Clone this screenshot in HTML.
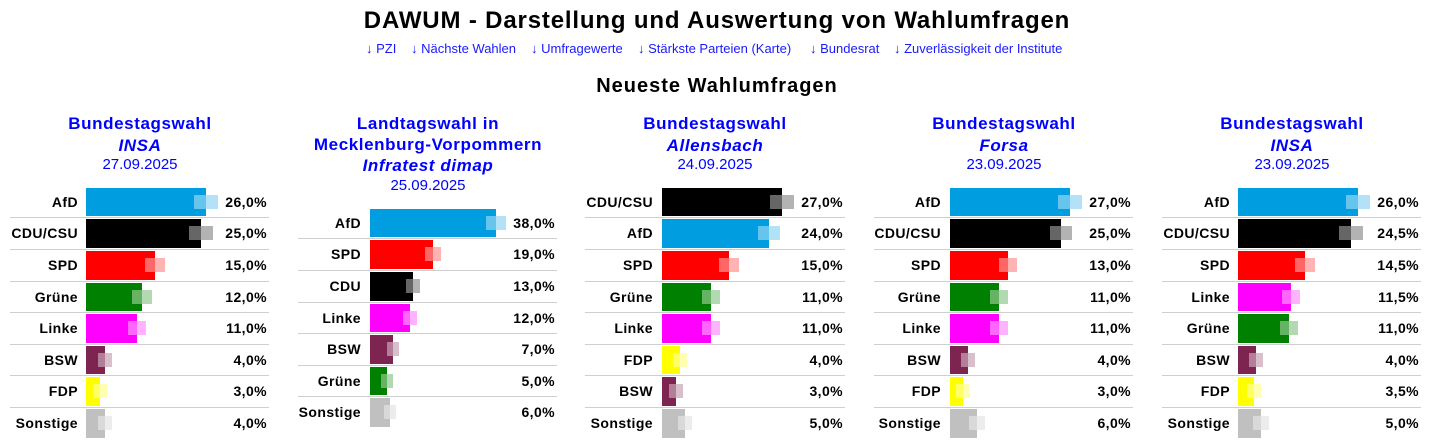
<!DOCTYPE html>
<html><head><meta charset="utf-8"><style>
body{margin:0;width:1434px;height:446px;background:#fff;position:relative;overflow:hidden;font-family:"Liberation Sans",Arial,sans-serif;color:#000}
.h1{position:absolute;left:0;top:9px;width:1434px;text-align:center;font-weight:bold;font-size:24px;letter-spacing:.84px;line-height:24px;white-space:nowrap}
.nav{position:absolute;top:41px;font-size:13px;line-height:15px;color:#1a1aff;white-space:nowrap}
.h2{position:absolute;left:0;top:74px;width:1434px;text-align:center;font-weight:bold;font-size:20px;letter-spacing:1px;line-height:24px;white-space:nowrap}
.p{position:absolute;top:0;width:260px;height:446px}
.ti{position:absolute;left:-30px;width:320px;text-align:center;color:#00f;font-weight:bold;font-size:17px;letter-spacing:.6px;line-height:20px;white-space:nowrap}
.i{font-style:italic}
.d{font-weight:normal;font-size:15px;letter-spacing:0;line-height:18px}
.ln{position:absolute;left:0;width:259px;height:1px;background:#cfcfcf}
.r{position:absolute;left:0;width:260px}
.l,.v{position:absolute;left:0;top:0;text-align:right;font-weight:bold;font-size:14px;letter-spacing:.4px;white-space:nowrap}
.b{position:absolute;top:0;height:100%}
.gi,.go{position:absolute;top:7px;height:14px}
.afd .b{background:#009ee0}.afd .gi{background:#66c5ec}.afd .go{background:#b3e2f6}
.cdu .b{background:#000}.cdu .gi{background:#666}.cdu .go{background:#b3b3b3}
.spd .b{background:#f00}.spd .gi{background:#f66}.spd .go{background:#ffb3b3}
.gru .b{background:#008000}.gru .gi{background:#66b366}.gru .go{background:#b3d9b3}
.lin .b{background:#f0f}.lin .gi{background:#f6f}.lin .go{background:#ffb3ff}
.bsw .b{background:#7d2450}.bsw .gi{background:#b37f98}.bsw .go{background:#d8bfcb}
.fdp .b{background:#ff0}.fdp .gi{background:#ff6}.fdp .go{background:#ffffb3}
.son .b{background:#c0c0c0}.son .gi{background:#d9d9d9}.son .go{background:#ececec}
</style></head><body>
<div class="h1">DAWUM - Darstellung und Auswertung von Wahlumfragen</div>
<div class="nav" style="left:366px">↓ PZI</div>
<div class="nav" style="left:411px">↓ Nächste Wahlen</div>
<div class="nav" style="left:531px">↓ Umfragewerte</div>
<div class="nav" style="left:638px">↓ Stärkste Parteien (Karte)</div>
<div class="nav" style="left:810px">↓ Bundesrat</div>
<div class="nav" style="left:894px">↓ Zuverlässigkeit der Institute</div>
<div class="h2">Neueste Wahlumfragen</div>

<!-- Panel 1 -->
<div class="p" style="left:10px">
<div class="ti" style="top:114px">Bundestagswahl</div>
<div class="ti i" style="top:136px">INSA</div>
<div class="ti d" style="top:156px">27.09.2025</div>
<div class="ln" style="top:217px"></div><div class="ln" style="top:249px"></div><div class="ln" style="top:281px"></div><div class="ln" style="top:312px"></div><div class="ln" style="top:344px"></div><div class="ln" style="top:375px"></div><div class="ln" style="top:407px"></div>
<div class="r afd" style="top:188px;height:28px;line-height:28px"><div class="l" style="width:68px">AfD</div><div class="b" style="left:76px;width:120px"></div><div class="gi" style="left:184px;width:12px"></div><div class="go" style="left:196px;width:12px"></div><div class="v" style="width:257px">26,0%</div></div>
<div class="r cdu" style="top:219px;height:29px;line-height:29px"><div class="l" style="width:68px">CDU/CSU</div><div class="b" style="left:76px;width:115px"></div><div class="gi" style="left:179px;width:12px"></div><div class="go" style="left:191px;width:12px"></div><div class="v" style="width:257px">25,0%</div></div>
<div class="r spd" style="top:251px;height:29px;line-height:29px"><div class="l" style="width:68px">SPD</div><div class="b" style="left:76px;width:69px"></div><div class="gi" style="left:135px;width:10px"></div><div class="go" style="left:145px;width:10px"></div><div class="v" style="width:257px">15,0%</div></div>
<div class="r gru" style="top:283px;height:28px;line-height:28px"><div class="l" style="width:68px">Grüne</div><div class="b" style="left:76px;width:56px"></div><div class="gi" style="left:122px;width:10px"></div><div class="go" style="left:132px;width:10px"></div><div class="v" style="width:257px">12,0%</div></div>
<div class="r lin" style="top:314px;height:29px;line-height:29px"><div class="l" style="width:68px">Linke</div><div class="b" style="left:76px;width:51px"></div><div class="gi" style="left:118px;width:9px"></div><div class="go" style="left:127px;width:9px"></div><div class="v" style="width:257px">11,0%</div></div>
<div class="r bsw" style="top:346px;height:28px;line-height:28px"><div class="l" style="width:68px">BSW</div><div class="b" style="left:76px;width:19px"></div><div class="gi" style="left:88px;width:7px"></div><div class="go" style="left:95px;width:7px"></div><div class="v" style="width:257px">4,0%</div></div>
<div class="r fdp" style="top:377px;height:29px;line-height:29px"><div class="l" style="width:68px">FDP</div><div class="b" style="left:76px;width:14px"></div><div class="gi" style="left:83px;width:7px"></div><div class="go" style="left:90px;width:7px"></div><div class="v" style="width:257px">3,0%</div></div>
<div class="r son" style="top:409px;height:29px;line-height:29px"><div class="l" style="width:68px">Sonstige</div><div class="b" style="left:76px;width:19px"></div><div class="gi" style="left:88px;width:7px"></div><div class="go" style="left:95px;width:7px"></div><div class="v" style="width:257px">4,0%</div></div>
</div>

<!-- Panel 2 -->
<div class="p" style="left:298px">
<div class="ti" style="top:114px">Landtagswahl in</div>
<div class="ti" style="top:135px">Mecklenburg-Vorpommern</div>
<div class="ti i" style="top:156px">Infratest dimap</div>
<div class="ti d" style="top:177px">25.09.2025</div>
<div class="ln" style="top:238px"></div><div class="ln" style="top:270px"></div><div class="ln" style="top:302px"></div><div class="ln" style="top:333px"></div><div class="ln" style="top:365px"></div><div class="ln" style="top:396px"></div>
<div class="r afd" style="top:209px;height:28px;line-height:28px"><div class="l" style="width:63px">AfD</div><div class="b" style="left:72px;width:126px"></div><div class="gi" style="left:188px;width:10px"></div><div class="go" style="left:198px;width:10px"></div><div class="v" style="width:257px">38,0%</div></div>
<div class="r spd" style="top:240px;height:29px;line-height:29px"><div class="l" style="width:63px">SPD</div><div class="b" style="left:72px;width:63px"></div><div class="gi" style="left:127px;width:8px"></div><div class="go" style="left:135px;width:8px"></div><div class="v" style="width:257px">19,0%</div></div>
<div class="r cdu" style="top:272px;height:29px;line-height:29px"><div class="l" style="width:63px">CDU</div><div class="b" style="left:72px;width:43px"></div><div class="gi" style="left:108px;width:7px"></div><div class="go" style="left:115px;width:7px"></div><div class="v" style="width:257px">13,0%</div></div>
<div class="r lin" style="top:304px;height:28px;line-height:28px"><div class="l" style="width:63px">Linke</div><div class="b" style="left:72px;width:40px"></div><div class="gi" style="left:105px;width:7px"></div><div class="go" style="left:112px;width:7px"></div><div class="v" style="width:257px">12,0%</div></div>
<div class="r bsw" style="top:335px;height:29px;line-height:29px"><div class="l" style="width:63px">BSW</div><div class="b" style="left:72px;width:23px"></div><div class="gi" style="left:89px;width:6px"></div><div class="go" style="left:95px;width:6px"></div><div class="v" style="width:257px">7,0%</div></div>
<div class="r gru" style="top:367px;height:28px;line-height:28px"><div class="l" style="width:63px">Grüne</div><div class="b" style="left:72px;width:17px"></div><div class="gi" style="left:83px;width:6px"></div><div class="go" style="left:89px;width:6px"></div><div class="v" style="width:257px">5,0%</div></div>
<div class="r son" style="top:398px;height:29px;line-height:29px"><div class="l" style="width:63px">Sonstige</div><div class="b" style="left:72px;width:20px"></div><div class="gi" style="left:86px;width:6px"></div><div class="go" style="left:92px;width:6px"></div><div class="v" style="width:257px">6,0%</div></div>
</div>

<!-- Panel 3 -->
<div class="p" style="left:585px">
<div class="ti" style="top:114px">Bundestagswahl</div>
<div class="ti i" style="top:136px">Allensbach</div>
<div class="ti d" style="top:156px">24.09.2025</div>
<div class="ln" style="top:217px;width:260px"></div><div class="ln" style="top:249px;width:260px"></div><div class="ln" style="top:281px;width:260px"></div><div class="ln" style="top:312px;width:260px"></div><div class="ln" style="top:344px;width:260px"></div><div class="ln" style="top:375px;width:260px"></div><div class="ln" style="top:407px;width:260px"></div>
<div class="r cdu" style="top:188px;height:28px;line-height:28px"><div class="l" style="width:68px">CDU/CSU</div><div class="b" style="left:77px;width:120px"></div><div class="gi" style="left:185px;width:12px"></div><div class="go" style="left:197px;width:12px"></div><div class="v" style="width:258px">27,0%</div></div>
<div class="r afd" style="top:219px;height:29px;line-height:29px"><div class="l" style="width:68px">AfD</div><div class="b" style="left:77px;width:107px"></div><div class="gi" style="left:173px;width:11px"></div><div class="go" style="left:184px;width:11px"></div><div class="v" style="width:258px">24,0%</div></div>
<div class="r spd" style="top:251px;height:29px;line-height:29px"><div class="l" style="width:68px">SPD</div><div class="b" style="left:77px;width:67px"></div><div class="gi" style="left:134px;width:10px"></div><div class="go" style="left:144px;width:10px"></div><div class="v" style="width:258px">15,0%</div></div>
<div class="r gru" style="top:283px;height:28px;line-height:28px"><div class="l" style="width:68px">Grüne</div><div class="b" style="left:77px;width:49px"></div><div class="gi" style="left:117px;width:9px"></div><div class="go" style="left:126px;width:9px"></div><div class="v" style="width:258px">11,0%</div></div>
<div class="r lin" style="top:314px;height:29px;line-height:29px"><div class="l" style="width:68px">Linke</div><div class="b" style="left:77px;width:49px"></div><div class="gi" style="left:117px;width:9px"></div><div class="go" style="left:126px;width:9px"></div><div class="v" style="width:258px">11,0%</div></div>
<div class="r fdp" style="top:346px;height:28px;line-height:28px"><div class="l" style="width:68px">FDP</div><div class="b" style="left:77px;width:18px"></div><div class="gi" style="left:88px;width:7px"></div><div class="go" style="left:95px;width:7px"></div><div class="v" style="width:258px">4,0%</div></div>
<div class="r bsw" style="top:377px;height:29px;line-height:29px"><div class="l" style="width:68px">BSW</div><div class="b" style="left:77px;width:14px"></div><div class="gi" style="left:84px;width:7px"></div><div class="go" style="left:91px;width:7px"></div><div class="v" style="width:258px">3,0%</div></div>
<div class="r son" style="top:409px;height:29px;line-height:29px"><div class="l" style="width:68px">Sonstige</div><div class="b" style="left:77px;width:23px"></div><div class="gi" style="left:93px;width:7px"></div><div class="go" style="left:100px;width:7px"></div><div class="v" style="width:258px">5,0%</div></div>
</div>

<!-- Panel 4 -->
<div class="p" style="left:874px">
<div class="ti" style="top:114px">Bundestagswahl</div>
<div class="ti i" style="top:136px">Forsa</div>
<div class="ti d" style="top:156px">23.09.2025</div>
<div class="ln" style="top:217px"></div><div class="ln" style="top:249px"></div><div class="ln" style="top:281px"></div><div class="ln" style="top:312px"></div><div class="ln" style="top:344px"></div><div class="ln" style="top:375px"></div><div class="ln" style="top:407px"></div>
<div class="r afd" style="top:188px;height:28px;line-height:28px"><div class="l" style="width:67px">AfD</div><div class="b" style="left:76px;width:120px"></div><div class="gi" style="left:184px;width:12px"></div><div class="go" style="left:196px;width:12px"></div><div class="v" style="width:257px">27,0%</div></div>
<div class="r cdu" style="top:219px;height:29px;line-height:29px"><div class="l" style="width:67px">CDU/CSU</div><div class="b" style="left:76px;width:111px"></div><div class="gi" style="left:176px;width:11px"></div><div class="go" style="left:187px;width:11px"></div><div class="v" style="width:257px">25,0%</div></div>
<div class="r spd" style="top:251px;height:29px;line-height:29px"><div class="l" style="width:67px">SPD</div><div class="b" style="left:76px;width:58px"></div><div class="gi" style="left:125px;width:9px"></div><div class="go" style="left:134px;width:9px"></div><div class="v" style="width:257px">13,0%</div></div>
<div class="r gru" style="top:283px;height:28px;line-height:28px"><div class="l" style="width:67px">Grüne</div><div class="b" style="left:76px;width:49px"></div><div class="gi" style="left:116px;width:9px"></div><div class="go" style="left:125px;width:9px"></div><div class="v" style="width:257px">11,0%</div></div>
<div class="r lin" style="top:314px;height:29px;line-height:29px"><div class="l" style="width:67px">Linke</div><div class="b" style="left:76px;width:49px"></div><div class="gi" style="left:116px;width:9px"></div><div class="go" style="left:125px;width:9px"></div><div class="v" style="width:257px">11,0%</div></div>
<div class="r bsw" style="top:346px;height:28px;line-height:28px"><div class="l" style="width:67px">BSW</div><div class="b" style="left:76px;width:18px"></div><div class="gi" style="left:87px;width:7px"></div><div class="go" style="left:94px;width:7px"></div><div class="v" style="width:257px">4,0%</div></div>
<div class="r fdp" style="top:377px;height:29px;line-height:29px"><div class="l" style="width:67px">FDP</div><div class="b" style="left:76px;width:13px"></div><div class="gi" style="left:82px;width:7px"></div><div class="go" style="left:89px;width:7px"></div><div class="v" style="width:257px">3,0%</div></div>
<div class="r son" style="top:409px;height:29px;line-height:29px"><div class="l" style="width:67px">Sonstige</div><div class="b" style="left:76px;width:27px"></div><div class="gi" style="left:95px;width:8px"></div><div class="go" style="left:103px;width:8px"></div><div class="v" style="width:257px">6,0%</div></div>
</div>

<!-- Panel 5 -->
<div class="p" style="left:1162px">
<div class="ti" style="top:114px">Bundestagswahl</div>
<div class="ti i" style="top:136px">INSA</div>
<div class="ti d" style="top:156px">23.09.2025</div>
<div class="ln" style="top:217px"></div><div class="ln" style="top:249px"></div><div class="ln" style="top:281px"></div><div class="ln" style="top:312px"></div><div class="ln" style="top:344px"></div><div class="ln" style="top:375px"></div><div class="ln" style="top:407px"></div>
<div class="r afd" style="top:188px;height:28px;line-height:28px"><div class="l" style="width:68px">AfD</div><div class="b" style="left:76px;width:120px"></div><div class="gi" style="left:184px;width:12px"></div><div class="go" style="left:196px;width:12px"></div><div class="v" style="width:257px">26,0%</div></div>
<div class="r cdu" style="top:219px;height:29px;line-height:29px"><div class="l" style="width:68px">CDU/CSU</div><div class="b" style="left:76px;width:113px"></div><div class="gi" style="left:177px;width:12px"></div><div class="go" style="left:189px;width:12px"></div><div class="v" style="width:257px">24,5%</div></div>
<div class="r spd" style="top:251px;height:29px;line-height:29px"><div class="l" style="width:68px">SPD</div><div class="b" style="left:76px;width:67px"></div><div class="gi" style="left:133px;width:10px"></div><div class="go" style="left:143px;width:10px"></div><div class="v" style="width:257px">14,5%</div></div>
<div class="r lin" style="top:283px;height:28px;line-height:28px"><div class="l" style="width:68px">Linke</div><div class="b" style="left:76px;width:53px"></div><div class="gi" style="left:120px;width:9px"></div><div class="go" style="left:129px;width:9px"></div><div class="v" style="width:257px">11,5%</div></div>
<div class="r gru" style="top:314px;height:29px;line-height:29px"><div class="l" style="width:68px">Grüne</div><div class="b" style="left:76px;width:51px"></div><div class="gi" style="left:118px;width:9px"></div><div class="go" style="left:127px;width:9px"></div><div class="v" style="width:257px">11,0%</div></div>
<div class="r bsw" style="top:346px;height:28px;line-height:28px"><div class="l" style="width:68px">BSW</div><div class="b" style="left:76px;width:18px"></div><div class="gi" style="left:87px;width:7px"></div><div class="go" style="left:94px;width:7px"></div><div class="v" style="width:257px">4,0%</div></div>
<div class="r fdp" style="top:377px;height:29px;line-height:29px"><div class="l" style="width:68px">FDP</div><div class="b" style="left:76px;width:16px"></div><div class="gi" style="left:85px;width:7px"></div><div class="go" style="left:92px;width:7px"></div><div class="v" style="width:257px">3,5%</div></div>
<div class="r son" style="top:409px;height:29px;line-height:29px"><div class="l" style="width:68px">Sonstige</div><div class="b" style="left:76px;width:23px"></div><div class="gi" style="left:91px;width:8px"></div><div class="go" style="left:99px;width:8px"></div><div class="v" style="width:257px">5,0%</div></div>
</div>
</body></html>
